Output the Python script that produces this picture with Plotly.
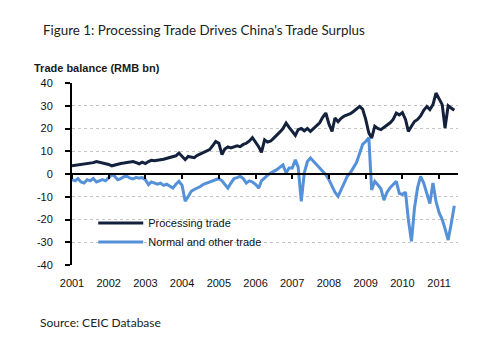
import pandas as pd
import plotly.graph_objects as go

# Monthly data, Jan 2001 - Jun 2011 (RMB bn)
months = pd.date_range("2001-01-01", periods=126, freq="MS")

processing_trade = [
    # 2001
    3.6, 3.8, 3.9, 4.2, 4.5, 4.6, 4.8, 5.0, 5.5, 5.2, 4.8, 4.5,
    # 2002
    4.2, 3.6, 4.0, 4.4, 4.6, 4.8, 5.0, 5.2, 5.5, 5.0, 4.5, 5.2,
    # 2003
    4.6, 5.5, 6.0, 5.8, 6.2, 6.3, 6.5, 6.8, 7.2, 7.7, 8.0, 9.2,
    # 2004
    7.8, 6.3, 7.7, 7.5, 7.2, 8.2, 8.9, 9.5, 10.2, 10.7, 12.5, 14.3,
    # 2005
    13.5, 8.5, 11.0, 11.9, 11.5, 12.0, 12.4, 12.0, 13.0, 13.5, 14.5, 16.0,
    # 2006
    14.0, 12.0, 9.5, 15.0, 14.0, 14.5, 15.8, 17.0, 18.5, 20.0, 22.4, 20.5,
    # 2007
    18.7, 17.0, 19.5, 20.0, 19.0, 20.0, 18.7, 20.0, 21.0, 22.5, 25.0, 26.8,
    # 2008
    22.0, 18.7, 24.6, 23.0, 24.5, 25.5, 26.0, 26.5, 27.5, 28.5, 29.7, 28.5,
    # 2009
    24.0, 18.0, 15.8, 21.0, 20.0, 19.5, 20.5, 21.5, 22.5, 24.0, 26.8, 26.0,
    # 2010
    27.0, 24.0, 18.7, 21.0, 23.1, 24.0, 25.5, 28.0, 29.7, 28.3, 30.5, 35.6,
    # 2011
    33.0, 30.5, 20.2, 30.0, 29.0, 28.0,
]

normal_other_trade = [
    # 2001
    -2.5, -3.0, -2.0, -3.5, -4.0, -2.5, -3.0, -2.0, -3.5, -3.0, -2.5, -3.0,
    # 2002
    -1.5, -0.3, -1.0, -2.5, -2.0, -1.2, -1.0, -1.8, -2.2, -1.5, -1.8, -1.6,
    # 2003
    -2.5, -4.7, -3.5, -4.0, -4.5, -4.0, -5.0, -4.5, -5.5, -6.2, -4.5, -3.2,
    # 2004
    -5.0, -12.0, -10.0, -7.6, -6.8, -6.2, -5.5, -4.5, -4.0, -3.5, -3.2, -2.5,
    # 2005
    -2.0, -3.0, -4.5, -6.2, -4.0, -2.0, -1.6, -1.0, -2.0, -4.0, -3.0, -3.5,
    # 2006
    -4.5, -6.2, -3.0, -1.6, -0.5, 0.4, 1.0, 1.9, 3.0, 4.0, 0.4, 2.6,
    # 2007
    2.6, 6.3, 3.0, -12.0, 0.5, 5.5, 7.0, 5.5, 4.0, 2.5, 1.0, -0.3,
    # 2008
    -2.5, -5.0, -8.0, -9.8, -7.0, -4.0, -1.0, 0.5, 2.6, 5.0, 9.0, 13.0,
    # 2009
    14.3, 16.0, -7.0, -3.2, -4.7, -6.5, -11.5, -8.0, -6.0, -4.5, -3.2, -8.5,
    # 2010
    -9.0, -8.0, -20.0, -29.6, -15.0, -6.0, -1.0, -4.0, -9.0, -13.0, -4.0, -12.0,
    # 2011
    -17.0, -20.0, -24.0, -29.0, -22.0, -14.0,
]

series_names = ["Processing trade", "Normal and other trade"]
series_colors = ["#14213d", "#5591d8"]

y_tickvals = [-40, -30, -20, -10, 0, 10, 20, 30, 40]
y_ticktext = ["-40", "-30", "-20", "-10", "0", "10", "20", "30", "40"]

fig = go.Figure()
fig.add_trace(go.Scatter(
    x=months, y=processing_trade, mode="lines", name=series_names[0],
    line=dict(color=series_colors[0], width=3), xaxis="x", yaxis="y",
))
fig.add_trace(go.Scatter(
    x=months, y=normal_other_trade, mode="lines", name=series_names[1],
    line=dict(color=series_colors[1], width=3), xaxis="x2", yaxis="y",
))

axis_font = dict(family="Liberation Sans, Arial, sans-serif", size=11, color="#111111")

fig.update_layout(
    width=480, height=347,
    margin=dict(l=72, r=22, t=83, b=82),
    paper_bgcolor="white", plot_bgcolor="white",
    showlegend=True,
    legend=dict(
        x=0.055, y=0.31, xanchor="left", yanchor="top",
        bgcolor="rgba(0,0,0,0)", font=axis_font,
        itemwidth=45, tracegroupgap=0,
    ),
    title=dict(
        text="Figure 1: Processing Trade Drives China's Trade Surplus",
        x=43 / 480, xanchor="left", xref="container",
        y=1 - 30 / 347, yanchor="middle", yref="container",
        font=dict(family="Lato, Open Sans, sans-serif", size=13.4, color="#222222"),
    ),
    xaxis=dict(
        type="date",
        range=["2001-01-01", "2011-07-08"],
        showgrid=False, zeroline=False, showline=False,
        ticks="", dtick="M12", tick0="2001-01-01", tickformat="%Y",
        tickfont=axis_font, ticklabelstandoff=10,
    ),
    xaxis2=dict(
        type="date", overlaying="x", matches="x", anchor="free", position=0.5,
        showgrid=False, zeroline=False, showline=True, linecolor="black", linewidth=2,
        ticks="outside", ticklen=4, tickwidth=2, tickcolor="black",
        dtick="M12", tick0="2001-01-01", showticklabels=False,
    ),
    yaxis=dict(
        range=[-40, 40], tickvals=y_tickvals, ticktext=y_ticktext,
        showgrid=True, gridcolor="#c4c4c4", griddash="dot", gridwidth=1,
        zeroline=False, showline=True, linecolor="black", linewidth=2,
        ticks="outside", ticklen=5, tickwidth=2, tickcolor="black",
        tickfont=axis_font, ticklabelstandoff=10,
    ),
    annotations=[
        dict(text="<b>Trade balance (RMB bn)</b>", xref="paper", yref="paper",
             x=(32 - 72) / 386, y=(265 - 68) / 182, xanchor="left", yanchor="middle",
             showarrow=False,
             font=dict(family="Liberation Sans, Arial, sans-serif", size=11, color="#1a1a1a")),
        dict(text="Source: CEIC Database", xref="paper", yref="paper",
             x=(38 - 72) / 386, y=(265 - 322) / 182, xanchor="left", yanchor="middle",
             showarrow=False,
             font=dict(family="Lato, Open Sans, sans-serif", size=12, color="#222222")),
    ],
)

fig.write_html("out.html")
